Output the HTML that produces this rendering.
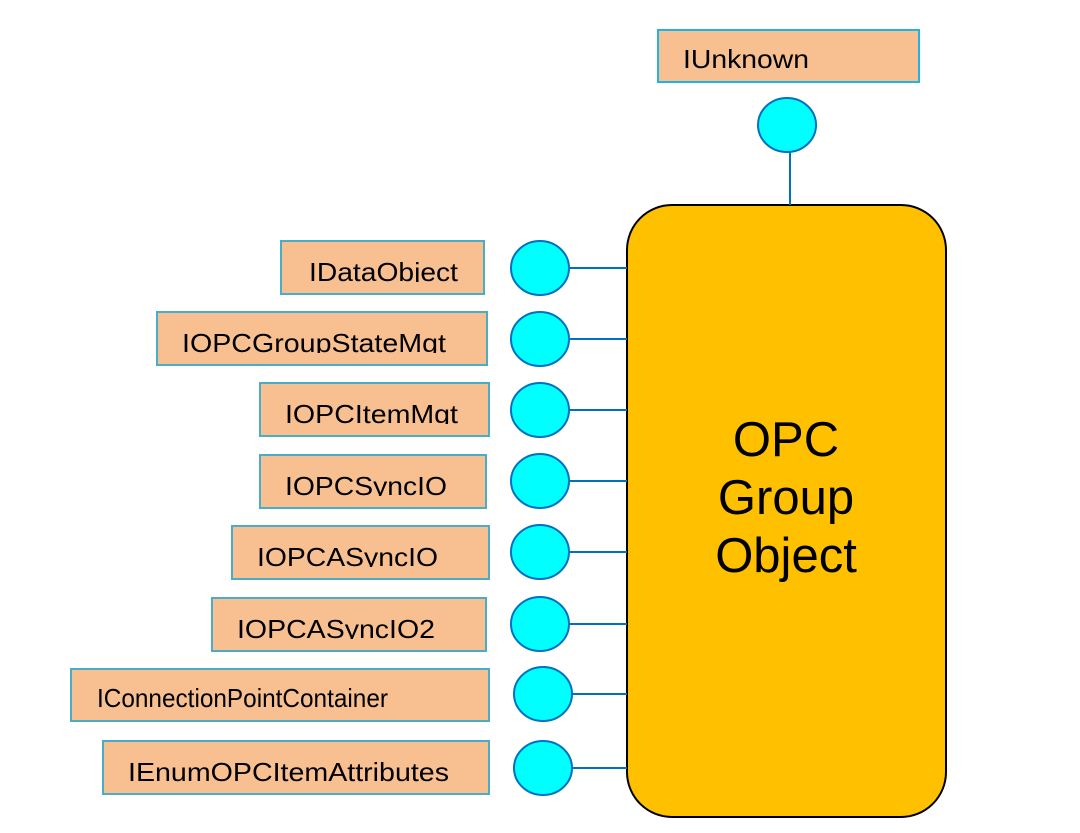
<!DOCTYPE html>
<html><head><meta charset="utf-8"><style>
html,body{margin:0;padding:0;background:#fff;}
svg{display:block;}
text{font-family:"Liberation Sans",Arial,sans-serif;fill:#000;}
</style></head><body>
<svg width="1080" height="833" viewBox="0 0 1080 833" xmlns="http://www.w3.org/2000/svg">
<defs>
<clipPath id="c1"><rect x="0" y="0" width="1080" height="282"/></clipPath>
<clipPath id="c2"><rect x="0" y="0" width="1080" height="353"/></clipPath>
<clipPath id="c3"><rect x="0" y="0" width="1080" height="424"/></clipPath>
<clipPath id="c4"><rect x="0" y="0" width="1080" height="496"/></clipPath>
<clipPath id="c5"><rect x="0" y="0" width="1080" height="567"/></clipPath>
<clipPath id="c6"><rect x="0" y="0" width="1080" height="639"/></clipPath>
</defs>
<rect x="627" y="205" width="319" height="612" rx="45" ry="45" fill="#FFC000" stroke="#000" stroke-width="2"/>
<text x="786" y="456" font-size="49" text-anchor="middle">OPC</text>
<text x="786" y="514" font-size="49" text-anchor="middle">Group</text>
<text x="786" y="572" font-size="49" text-anchor="middle">Object</text>
<rect x="658" y="30" width="261" height="52" fill="#F8C090" stroke="#1EB4E6" stroke-width="2"/>
<text x="683" y="68" font-size="26" textLength="126" lengthAdjust="spacingAndGlyphs">IUnknown</text>
<line x1="790" y1="152" x2="790" y2="205" stroke="#0070C0" stroke-width="2"/>
<ellipse cx="787" cy="125" rx="29" ry="27" fill="#00FFFF" stroke="#0070C0" stroke-width="2"/>
<g stroke="#0070C0" stroke-width="2">
<line x1="569" y1="268" x2="627" y2="268"/>
<line x1="569" y1="339" x2="627" y2="339"/>
<line x1="569" y1="410" x2="627" y2="410"/>
<line x1="569" y1="481" x2="627" y2="481"/>
<line x1="569" y1="552" x2="627" y2="552"/>
<line x1="569" y1="624" x2="627" y2="624"/>
<line x1="572" y1="694" x2="627" y2="694"/>
<line x1="572" y1="768" x2="627" y2="768"/>
</g>
<g fill="#00FFFF" stroke="#0070C0" stroke-width="2">
<ellipse cx="540" cy="268" rx="29" ry="27"/>
<ellipse cx="540" cy="339" rx="29" ry="27"/>
<ellipse cx="540" cy="410" rx="29" ry="27"/>
<ellipse cx="540" cy="481" rx="29" ry="27"/>
<ellipse cx="540" cy="552" rx="29" ry="27"/>
<ellipse cx="540" cy="624" rx="29" ry="27"/>
<ellipse cx="543" cy="694" rx="29" ry="27"/>
<ellipse cx="543" cy="768" rx="29" ry="27"/>
</g>
<g fill="#F8C090" stroke="#4BACC6" stroke-width="2">
<rect x="281" y="241" width="203" height="53"/>
<rect x="157" y="312" width="330" height="53"/>
<rect x="260" y="383" width="229" height="53"/>
<rect x="260" y="455" width="226" height="53"/>
<rect x="232" y="526" width="257" height="53"/>
<rect x="212" y="598" width="274" height="53"/>
<rect x="71" y="669" width="418" height="52"/>
<rect x="103" y="741" width="386" height="53"/>
</g>
<g font-size="26">
<text clip-path="url(#c1)" x="309" y="281" textLength="149" lengthAdjust="spacingAndGlyphs">IDataObject</text>
<text clip-path="url(#c2)" x="182" y="352" textLength="264" lengthAdjust="spacingAndGlyphs">IOPCGroupStateMgt</text>
<text clip-path="url(#c3)" x="285" y="423" textLength="173" lengthAdjust="spacingAndGlyphs">IOPCItemMgt</text>
<text clip-path="url(#c4)" x="285" y="495" textLength="162" lengthAdjust="spacingAndGlyphs">IOPCSyncIO</text>
<text clip-path="url(#c5)" x="257" y="566" textLength="181" lengthAdjust="spacingAndGlyphs">IOPCASyncIO</text>
<text clip-path="url(#c6)" x="237" y="638" textLength="198" lengthAdjust="spacingAndGlyphs">IOPCASyncIO2</text>
<text x="97" y="707" textLength="291" lengthAdjust="spacingAndGlyphs">IConnectionPointContainer</text>
<text x="128" y="781" textLength="321" lengthAdjust="spacingAndGlyphs">IEnumOPCItemAttributes</text>
</g>
</svg>
</body></html>
